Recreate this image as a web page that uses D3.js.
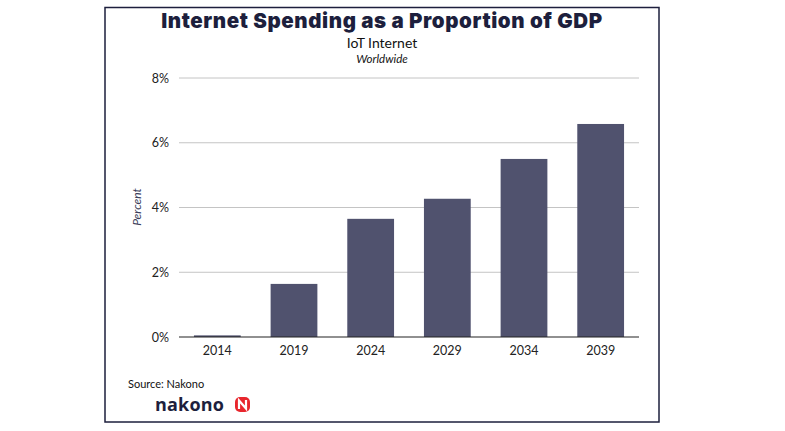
<!DOCTYPE html>
<html><head><meta charset="utf-8">
<script src="https://cdn.jsdelivr.net/npm/d3@7"></script>
<style>body{margin:0;background:#fff;} svg{display:block;}</style>
</head><body>
<script>
const categories = ["2014","2019","2024","2029","2034","2039"];
const values = [0.05, 1.64, 3.65, 4.27, 5.50, 6.58];
const yTicks = [0, 2, 4, 6, 8];
const title = "Internet Spending as a Proportion of GDP";
const subtitle = "IoT Internet";
const subtitle2 = "Worldwide";
const yLabel = "Percent";
const source = "Source: Nakono";

const W = 785, H = 431;
const svg = d3.select("body").append("svg").attr("width", W).attr("height", H);
const navy = "#1d1f3d";

svg.append("rect").attr("x",105).attr("y",7.5).attr("width",554).attr("height",414.5)
  .attr("fill","none").attr("stroke",navy).attr("stroke-width",1.5);

const x = d3.scaleBand().domain(categories).range([179,639]).paddingInner(0.39).paddingOuter(0.195);
const y = d3.scaleLinear().domain([0,8]).range([337,78]);

// grid
svg.append("g").selectAll("line").data(yTicks.filter(d=>d>0)).join("line")
  .attr("x1",179).attr("x2",639).attr("y1",d=>y(d)).attr("y2",d=>y(d))
  .attr("stroke","#c4c4c4").attr("stroke-width",1);

// bars
svg.append("g").selectAll("rect").data(categories).join("rect")
  .attr("x",d=>x(d)).attr("width",x.bandwidth())
  .attr("y",(d,i)=>y(values[i])).attr("height",(d,i)=>y(0)-y(values[i]))
  .attr("fill","#50526e");

// y axis labels
const yAxis = d3.axisLeft(y).tickValues(yTicks).tickFormat(d=>d+"%").tickSize(0).tickPadding(10);
const gy = svg.append("g").attr("transform","translate(179,0)").call(yAxis);
gy.select(".domain").remove();
gy.selectAll("text").attr("font-family","Lato, sans-serif").attr("font-size",12.5).attr("fill","#222");

// x axis
const xAxis = d3.axisBottom(x).tickSize(0).tickPadding(9);
const gx = svg.append("g").attr("transform","translate(0,337)").call(xAxis);
gx.select(".domain").attr("d","M179,0H639").attr("stroke","#222").attr("stroke-width",1.2);
gx.selectAll("text").attr("font-family","Lato, sans-serif").attr("font-size",12.5).attr("fill","#222");

// titles
svg.append("text").attr("x",382).attr("y",28).attr("text-anchor","middle")
  .attr("font-family","Inter, 'Open Sans', sans-serif").attr("font-weight",900)
  .attr("font-size",20.5).attr("fill",navy).attr("letter-spacing",0.6).text(title);
svg.append("text").attr("x",382).attr("y",48).attr("text-anchor","middle")
  .attr("font-family","Lato, sans-serif").attr("font-size",14).attr("fill","#111").text(subtitle);
svg.append("text").attr("x",382).attr("y",63).attr("text-anchor","middle")
  .attr("font-family","Lato, sans-serif").attr("font-style","italic").attr("font-size",11.5).attr("fill","#111").text(subtitle2);

// y label
svg.append("text").attr("transform","translate(141,207) rotate(-90)").attr("text-anchor","middle")
  .attr("font-family","Lato, sans-serif").attr("font-style","italic").attr("font-size",12)
  .attr("fill","#3d3f5c").text(yLabel);

// source
svg.append("text").attr("x",128).attr("y",388)
  .attr("font-family","Lato, sans-serif").attr("font-size",11).attr("fill","#111").text(source);

// logo
svg.append("text").attr("x",155).attr("y",411)
  .attr("font-family","'Open Sans', Inter, sans-serif").attr("font-weight",700)
  .attr("font-size",18).attr("fill",navy).attr("letter-spacing",0.2).text("nakono");
const lg = svg.append("g").attr("transform","translate(235,397)");
lg.append("rect").attr("x",0).attr("y",0).attr("width",15).attr("height",15).attr("rx",5).attr("fill","#e8262d");
lg.append("path").attr("d","M4,12V3.5L11,11.5V3").attr("fill","none").attr("stroke","#fff").attr("stroke-width",2.2);
</script>
</body></html>
